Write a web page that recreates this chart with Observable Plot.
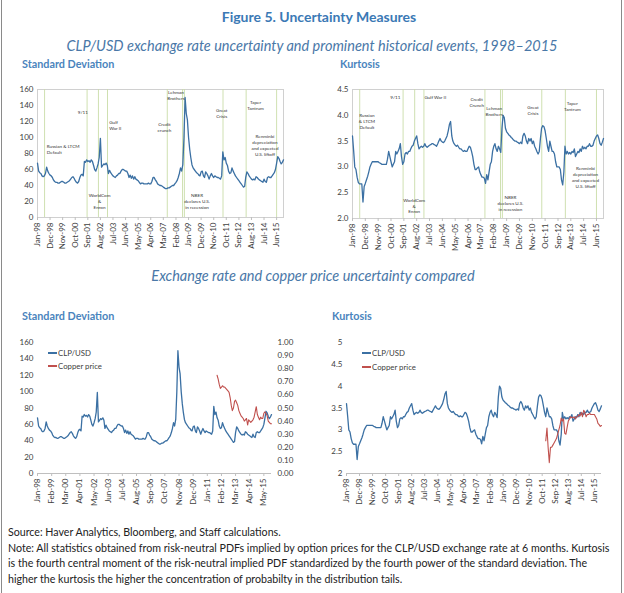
<!DOCTYPE html>
<html><head><meta charset="utf-8">
<script src="https://cdn.jsdelivr.net/npm/d3@7"></script>
<script src="https://cdn.jsdelivr.net/npm/@observablehq/plot@0.6"></script>
<style>
body{margin:0;background:#fff;}
#page{position:relative;width:624px;height:593px;font-family:Lato,sans-serif;overflow:hidden;background:#fff;}
.abs{position:absolute;white-space:nowrap;}
.title{font-weight:bold;color:#3b79b5;font-size:14px;line-height:16px;}
.sub{font-style:italic;color:#4a78a8;font-size:14.5px;line-height:18px;}
.ptitle{font-weight:bold;color:#4a84bd;font-size:10.8px;line-height:12px;}
.foot{font-size:10.65px;line-height:15.6px;color:#222;}
.leg{font-size:7.8px;line-height:10px;color:#404040;}
.sw{display:inline-block;width:9px;height:1.4px;vertical-align:middle;margin-right:1px;position:relative;top:-1px;}
.bord{position:absolute;top:0;width:1px;height:593px;background:#8a8a8a;}
</style></head><body><div id="page">
<div class="bord" style="left:1px"></div>
<div class="bord" style="left:621px"></div>
<div class="abs title" style="left:0;width:638px;text-align:center;top:9px">Figure 5. Uncertainty Measures</div>
<div class="abs sub" style="left:0;width:624px;text-align:center;top:37px">CLP/USD exchange rate uncertainty and prominent historical events, 1998–2015</div>
<div class="abs ptitle" style="left:22px;top:58px">Standard Deviation</div>
<div class="abs ptitle" style="left:340px;top:58px">Kurtosis</div>
<div class="abs sub" style="left:0;width:626px;text-align:center;top:267px">Exchange rate and copper price uncertainty compared</div>
<div class="abs ptitle" style="left:22px;top:310px">Standard Deviation</div>
<div class="abs ptitle" style="left:332px;top:310px">Kurtosis</div>
<div id="p1" class="abs" style="left:0;top:80px"></div>
<div id="p2" class="abs" style="left:310px;top:80px"></div>
<div id="p3" class="abs" style="left:0;top:333px"></div>
<div id="p4" class="abs" style="left:310px;top:333px"></div>
<div class="abs leg" style="left:48px;top:348px"><span class="sw" style="background:#3b70a3"></span>CLP/USD</div>
<div class="abs leg" style="left:48px;top:361px"><span class="sw" style="background:#c0504d"></span>Copper price</div>
<div class="abs leg" style="left:362px;top:348px"><span class="sw" style="background:#3b70a3"></span>CLP/USD</div>
<div class="abs leg" style="left:362px;top:362px"><span class="sw" style="background:#c0504d"></span>Copper price</div>
<div class="abs foot" style="left:8px;top:524px">Source: Haver Analytics, Bloomberg, and Staff calculations.<br>Note: All statistics obtained from risk-neutral PDFs implied by option prices for the CLP/USD exchange rate at 6 months. Kurtosis<br>is the fourth central moment of the risk-neutral implied PDF standardized by the fourth power of the standard deviation. The<br>higher the kurtosis the higher the concentration of probabilty in the distribution tails.</div>
</div>
<script>
// ---- Data ----
const firstMonth = "Jan-98";
const lastMonth = "Dec-15";
// CLP/USD implied standard deviation, monthly Jan-98 .. Dec-15
const clpSD = [
 68,58,56,55,52,51,52,55,63,58,55,53,
 52,50,47,45,44,44,43,43,44,45,45,44,
 43,43,44,45,46,48,50,51,49,46,44,43,
 45,50,53,54,52,70,69,72,70,71,69,72,
 70,65,60,58,62,67,75,99,63,65,67,66,
 68,65,55,59,56,54,52,51,50,52,53,55,
 55,58,60,60,59,58,58,55,50,53,49,52,
 48,51,48,47,46,44,42,43,43,42,42,42,
 42,43,42,42,45,50,50,47,45,42,41,40,
 40,39,38,37,36,36,37,37,38,39,40,40,
 42,44,46,50,55,62,58,66,100,150,130,122,
 100,85,75,66,62,60,58,56,55,53,52,57,
 58,52,50,57,55,52,48,52,55,52,50,52,
 51,50,50,49,48,52,82,72,75,68,65,58,
 55,56,62,58,55,52,50,48,46,44,42,40,
 38,39,50,57,55,52,50,48,47,48,47,51,
 50,48,47,46,45,44,48,45,44,50,51,50,
 50,52,54,56,60,68,76,74,70,67,69,72
];
// CLP/USD implied kurtosis, monthly Jan-98 .. Dec-15
const clpKurt = [
 3.6,3.3,3.0,2.95,2.8,2.7,2.67,2.67,2.67,2.32,2.62,2.68,
 2.75,2.82,2.9,3.0,3.05,3.1,3.1,3.1,3.1,3.1,3.1,3.08,
 3.07,3.05,3.05,3.05,3.05,3.05,3.15,3.3,3.2,3.1,3.0,3.05,
 3.1,3.3,3.25,3.3,3.35,3.45,3.2,3.05,3.1,3.25,3.28,3.25,
 3.3,3.3,3.35,3.4,3.42,3.5,3.55,3.6,3.45,3.35,3.38,3.4,
 3.38,3.4,3.45,3.4,3.38,3.4,3.42,3.43,3.45,3.45,3.43,3.42,
 3.4,3.45,3.5,3.55,3.5,3.48,3.47,3.5,3.55,3.6,3.7,3.82,
 3.88,3.6,3.5,3.45,3.42,3.4,3.42,3.38,3.35,3.35,3.32,3.3,
 3.32,3.3,3.3,3.35,3.4,3.38,3.3,3.2,3.05,2.95,2.95,2.98,
 3.0,2.9,2.85,2.8,2.8,2.78,2.68,2.85,2.75,2.9,3.05,3.1,
 3.3,3.4,3.45,3.35,3.3,3.4,3.35,3.28,3.75,4.0,3.95,3.75,
 3.68,3.65,3.62,3.6,3.57,3.55,3.52,3.5,3.5,3.48,3.47,3.45,
 3.48,3.45,3.6,3.65,3.6,3.5,3.45,3.55,3.5,3.55,3.45,3.5,
 3.4,3.35,3.3,3.25,3.3,3.55,3.75,3.8,3.78,3.7,3.55,3.4,
 3.3,3.5,3.4,3.3,3.3,3.25,3.1,3.0,3.0,3.0,2.95,2.75,
 2.65,2.9,3.4,3.25,3.3,3.25,3.28,3.25,3.3,3.28,3.35,3.2,
 3.25,3.3,3.28,3.35,3.3,3.4,3.35,3.38,3.35,3.4,3.4,3.45,
 3.4,3.4,3.42,3.5,3.55,3.6,3.62,3.55,3.45,3.42,3.48,3.55
];
// Copper price implied standard deviation (right axis), monthly from Oct-11
const copperSDStart = "Oct-11";
const copperSD = [
 0.75,0.72,0.68,0.65,0.66,0.67,0.66,0.66,0.65,0.64,0.63,0.62,
 0.58,0.52,0.48,0.50,0.55,0.56,0.54,0.52,0.48,0.46,0.44,0.43,
 0.42,0.40,0.41,0.42,0.37,0.41,0.40,0.39,0.40,0.41,0.43,0.47,
 0.51,0.45,0.43,0.41,0.43,0.42,0.42,0.46,0.47,0.46,0.44,0.40,
 0.39,0.38,0.38
];
// Copper price implied kurtosis, monthly from Jan-12
const copperKurtStart = "Jan-12";
const copperKurt = [
 2.75,3.04,2.6,2.25,2.6,2.6,2.65,2.7,2.75,2.8,2.9,3.0,
 3.1,3.27,3.2,3.25,2.92,2.9,3.05,3.2,3.25,3.3,3.28,3.28,
 3.3,3.25,3.3,3.3,3.35,3.32,3.4,3.3,3.45,3.4,3.3,3.35,
 3.35,3.38,3.35,3.35,3.35,3.35,3.3,3.25,3.15,3.12,3.08,3.1
];
// x tick labels
const ticks11 = ["Jan-98","Dec-98","Nov-99","Oct-00","Sep-01","Aug-02","Jul-03","Jun-04","May-05","Apr-06","Mar-07","Feb-08","Jan-09","Dec-09","Nov-10","Oct-11","Sep-12","Aug-13","Jul-14","Jun-15"];
const ticks13 = ["Jan-98","Feb-99","Mar-00","Apr-01","May-02","Jun-03","Jul-04","Aug-05","Sep-06","Oct-07","Nov-08","Dec-09","Jan-11","Feb-12","Mar-13","Apr-14","May-15"];
const sdTicks = [0,20,40,60,80,100,120,140,160];
const kurtTicksTop = [2.0,2.5,3.0,3.5,4.0,4.5];
const kurtTicksBottom = [2,2.5,3,3.5,4,4.5,5];
const copperTicks = [0,0.1,0.2,0.3,0.4,0.5,0.6,0.7,0.8,0.9,1.0];
// historical events
const eventNames = ["Russian & LTCM Default","9/11","WorldCom & Enron","Gulf War II","Credit crunch","Lehman Brothers","NBER declares U.S. in recession","Great Crisis","Taper Tantrum","Renminbi depreciation and expected U.S. liftoff"];
const eventDates = ["1998-07-08","2001-08-12","2002-06-10","2003-02-06","2007-06-15","2008-07-25","2008-09-12","2011-07-06","2013-03-12","2015-06-01"];
// annotation text blocks (label anchor in data coordinates)
const sdLabelText = ["Russian & LTCM\nDefault","9/11","WorldCom\n&\nEnron","Gulf\nWar II","Credit\ncrunch","Lehman\nBrothers","NBER\ndeclares U.S.\nin recession","Great\nCrisis","Taper\nTantrum","Renminbi\ndepreciation\nand expected\nU.S. liftoff"];
const sdLabelX = ["1998-09-05","2001-04-20","2002-07-10","2003-03-25","2007-04-01","2008-02-01","2009-08-15","2011-06-01","2013-11-18","2014-07-25"];
const sdLabelY = [85.4,132,20.8,115.4,112.7,152.5,20.4,131,140.8,91];
const sdLabelAnchor = ["start","middle","middle","start","middle","middle","middle","middle","middle","middle"];
const kuLabelText = ["Russian\n& LTCM\nDefault","9/11","WorldCom\n&\nEnron","Gulf War II","Credit\nCrunch","Lehman\nBrothers","NBER\ndeclares U.S.\nin recession","Great\nCrisis","Taper\nTantrum","Renminbi\ndepreciation\nand expected\nU.S. liftoff"];
const kuLabelX = ["1999-01-12","2001-01-20","2002-05-28","2003-02-20","2006-11-12","2008-02-12","2009-04-10","2010-11-18","2013-09-12","2014-08-20"];
const kuLabelY = [3.89,4.36,2.25,4.35,4.26,4.09,2.30,4.11,4.17,2.80];
const kuLabelAnchor = ["middle","middle","middle","start","middle","middle","middle","middle","middle","middle"];

// ---- Build ----
const parse = d3.utcParse("%b-%y");
const fmt = d3.utcFormat("%b-%y");
const iso = d3.utcParse("%Y-%m-%d");
const t0 = parse(firstMonth), t1 = parse(lastMonth);
const months = d3.utcMonth.range(t0, d3.utcMonth.offset(t1, 1));
const clp = months.map((d, i) => ({date: d, sd: clpSD[i], kurt: clpKurt[i]}));
const cSD = copperSD.map((v, i) => ({date: d3.utcMonth.offset(parse(copperSDStart), i), v}));
const cKu = copperKurt.map((v, i) => ({date: d3.utcMonth.offset(parse(copperKurtStart), i), v}));
const events = eventNames.map((n, i) => ({name: n, date: iso(eventDates[i])}));
const sdLabels = sdLabelText.map((t, i) => ({text: t, date: iso(sdLabelX[i]), y: sdLabelY[i], anchor: sdLabelAnchor[i]}));
const kuLabels = kuLabelText.map((t, i) => ({text: t, date: iso(kuLabelX[i]), y: kuLabelY[i], anchor: kuLabelAnchor[i]}));

const BLUE = "#3b70a3", RED = "#c0504d", EVT = "#c9dca8", GRID = "#d0d0d0";
const baseStyle = {fontFamily: "Lato, sans-serif", fontSize: "8px", color: "#404040", background: "transparent", overflow: "visible"};
const xAxis = (tk) => Plot.axisX({ticks: tk.map(parse), tickFormat: fmt, tickRotate: -90, tickSize: 3, tickPadding: 2, label: null, stroke: "#bfbfbf"});
const labelMarks = (labels) => ["start", "middle"].map(a => Plot.text(labels.filter(d => d.anchor === a), {
  x: "date", y: "y", text: "text", textAnchor: a, lineAnchor: "middle", fontSize: 4.6, lineHeight: 1.3, fill: "#333"}));

const p1 = Plot.plot({
  width: 300, height: 175, marginLeft: 37, marginRight: 17, marginTop: 9, marginBottom: 38,
  style: baseStyle,
  x: {type: "utc", domain: [t0, t1]},
  y: {domain: [0, 160]},
  marks: [
    Plot.frame({stroke: GRID}),
    Plot.ruleX(events, {x: "date", stroke: EVT, strokeWidth: 0.9}),
    xAxis(ticks11),
    Plot.axisY({ticks: sdTicks, tickSize: 0, tickPadding: 4, label: null}),
    Plot.lineY(clp, {x: "date", y: "sd", stroke: BLUE, strokeWidth: 1.3}),
    ...labelMarks(sdLabels)
  ]
});
document.getElementById("p1").append(p1);

const p2 = Plot.plot({
  width: 314, height: 175, marginLeft: 42, marginRight: 21, marginTop: 9, marginBottom: 37,
  style: baseStyle,
  x: {type: "utc", domain: [t0, t1]},
  y: {domain: [2, 4.5]},
  marks: [
    Plot.frame({stroke: GRID}),
    Plot.ruleX(events, {x: "date", stroke: EVT, strokeWidth: 0.9}),
    xAxis(ticks11),
    Plot.axisY({ticks: kurtTicksTop, tickFormat: d => d.toFixed(1), tickSize: 0, tickPadding: 4, label: null}),
    Plot.lineY(clp, {x: "date", y: "kurt", stroke: BLUE, strokeWidth: 1.3}),
    ...labelMarks(kuLabels)
  ]
});
document.getElementById("p2").append(p2);

const p3 = Plot.plot({
  width: 310, height: 175, marginLeft: 37, marginRight: 39, marginTop: 9, marginBottom: 35,
  style: baseStyle,
  x: {type: "utc", domain: [t0, t1]},
  y: {domain: [0, 160]},
  marks: [
    Plot.ruleY([0], {stroke: "#bfbfbf"}),
    xAxis(ticks13),
    Plot.axisY({ticks: sdTicks, tickSize: 0, tickPadding: 4, label: null}),
    Plot.axisY({anchor: "right", ticks: copperTicks.map(v => v * 160), tickFormat: d => (d / 160).toFixed(2), tickSize: 0, tickPadding: 6, label: null}),
    Plot.lineY(clp, {x: "date", y: "sd", stroke: BLUE, strokeWidth: 1.3}),
    Plot.lineY(cSD, {x: "date", y: d => d.v * 160, stroke: RED, strokeWidth: 1.1})
  ]
});
document.getElementById("p3").append(p3);

const p4 = Plot.plot({
  width: 314, height: 175, marginLeft: 36, marginRight: 23, marginTop: 9, marginBottom: 35,
  style: baseStyle,
  x: {type: "utc", domain: [t0, t1]},
  y: {domain: [2, 5]},
  marks: [
    Plot.ruleY([2], {stroke: "#bfbfbf"}),
    xAxis(ticks11),
    Plot.axisY({ticks: kurtTicksBottom, tickFormat: d => String(d), tickSize: 0, tickPadding: 4, label: null}),
    Plot.lineY(clp, {x: "date", y: "kurt", stroke: BLUE, strokeWidth: 1.3}),
    Plot.lineY(cKu, {x: "date", y: "v", stroke: RED, strokeWidth: 1.1})
  ]
});
document.getElementById("p4").append(p4);
</script>
</body></html>
